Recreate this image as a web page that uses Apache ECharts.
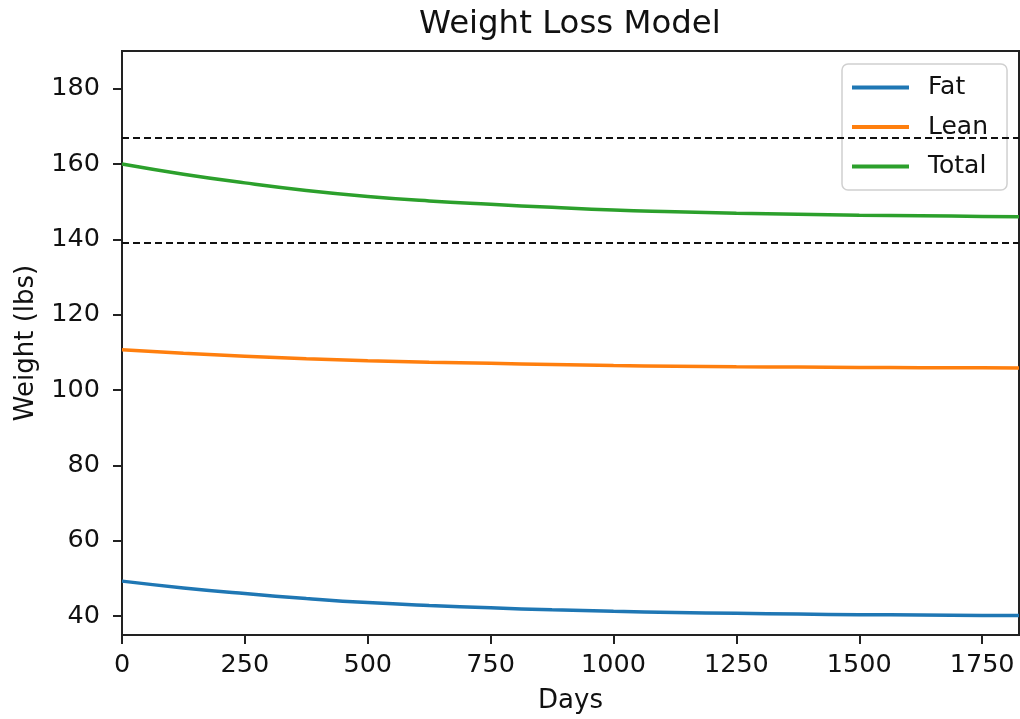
<!DOCTYPE html>
<html>
<head>
<meta charset="utf-8">
<script src="https://cdn.jsdelivr.net/npm/echarts@6/dist/echarts.min.js"></script>
<style>html,body{margin:0;padding:0;background:#fff}#c{width:1020px;height:719px}</style>
</head>
<body>
<div id="c"></div>
<script>
const days  = [0, 125, 250, 375, 500, 625, 750, 875, 1000, 1125, 1250, 1375, 1500, 1625, 1750, 1825];
const fat   = [49.3, 47.5, 46.0, 44.7, 43.6, 42.8, 42.2, 41.7, 41.3, 41.0, 40.75, 40.55, 40.4, 40.3, 40.2, 40.15];
const lean  = [110.7, 109.8, 109.0, 108.3, 107.8, 107.4, 107.1, 106.8, 106.5, 106.35, 106.2, 106.1, 106.0, 105.95, 105.9, 105.85];
const total = [160.0, 157.3, 155.0, 153.0, 151.4, 150.2, 149.3, 148.5, 147.8, 147.35, 146.95, 146.65, 146.4, 146.25, 146.1, 146.0];
const refLines = [167, 139];
const xTicks = [0, 250, 500, 750, 1000, 1250, 1500, 1750];
const yTicks = [40, 60, 80, 100, 120, 140, 160, 180];

const FONT = 'DejaVu Sans';
const pair = arr => days.map((d, i) => [d, arr[i]]);
const chart = echarts.init(document.getElementById('c'));
const axisCommon = {
  axisLine: {show: true, lineStyle: {color: '#222', width: 2}},
  axisTick: {show: true, inside: false, length: 9, lineStyle: {color: '#222', width: 2}},
  splitLine: {show: false},
  nameTextStyle: {fontFamily: FONT, fontSize: 26, color: '#111'}
};
chart.setOption({
  animation: false,
  backgroundColor: '#fff',
  title: {
    text: 'Weight Loss Model', left: 419, top: 9, padding: 0,
    textStyle: {fontFamily: FONT, fontSize: 32.4, fontWeight: 'normal', color: '#111'}
  },
  grid: {left: 122, right: 1, top: 51, bottom: 84, show: true, borderColor: '#222', borderWidth: 2, containLabel: false},
  legend: {
    orient: 'vertical', left: 842, top: 64,
    padding: [11, 19, 11, 10], itemGap: 14.5,
    itemWidth: 57, itemHeight: 4, icon: 'rect',
    backgroundColor: 'rgba(255,255,255,0.8)', borderColor: '#d0d0d0', borderWidth: 1.5, borderRadius: 6,
    textStyle: {fontFamily: FONT, fontSize: 25, color: '#111', padding: [0, 0, 0, 14]},
    data: ['Fat', 'Lean', 'Total']
  },
  xAxis: Object.assign({}, axisCommon, {
    type: 'value', min: 0, max: 1825,
    name: 'Days', nameLocation: 'middle', nameGap: 53,
    axisLabel: {customValues: xTicks, margin: 17, fontFamily: FONT, fontSize: 25.5, color: '#111',
      formatter: v => String(v)},
    axisTick: Object.assign({}, axisCommon.axisTick, {customValues: xTicks})
  }),
  yAxis: Object.assign({}, axisCommon, {
    type: 'value', min: 35, max: 190,
    name: 'Weight (lbs)', nameLocation: 'middle', nameGap: 83, nameRotate: 90,
    axisLabel: {customValues: yTicks, margin: 22, fontFamily: FONT, fontSize: 25.5, color: '#111',
      formatter: v => String(v)},
    axisTick: Object.assign({}, axisCommon.axisTick, {customValues: yTicks})
  }),
  series: [
    {name: 'Fat', type: 'line', data: pair(fat), showSymbol: false, smooth: 0.5,
     lineStyle: {color: '#1f77b4', width: 3.5}, itemStyle: {color: '#1f77b4'}, z: 3},
    {name: 'Lean', type: 'line', data: pair(lean), showSymbol: false, smooth: 0.5,
     lineStyle: {color: '#ff7f0e', width: 3.5}, itemStyle: {color: '#ff7f0e'}, z: 3},
    {name: 'Total', type: 'line', data: pair(total), showSymbol: false, smooth: 0.5,
     lineStyle: {color: '#2ca02c', width: 3.5}, itemStyle: {color: '#2ca02c'}, z: 3,
     markLine: {silent: true, symbol: ['none', 'none'], label: {show: false},
       lineStyle: {color: '#111', type: [7, 4], width: 1.8},
       data: refLines.map(v => ({yAxis: v}))}}
  ]
});
</script>
</body>
</html>
